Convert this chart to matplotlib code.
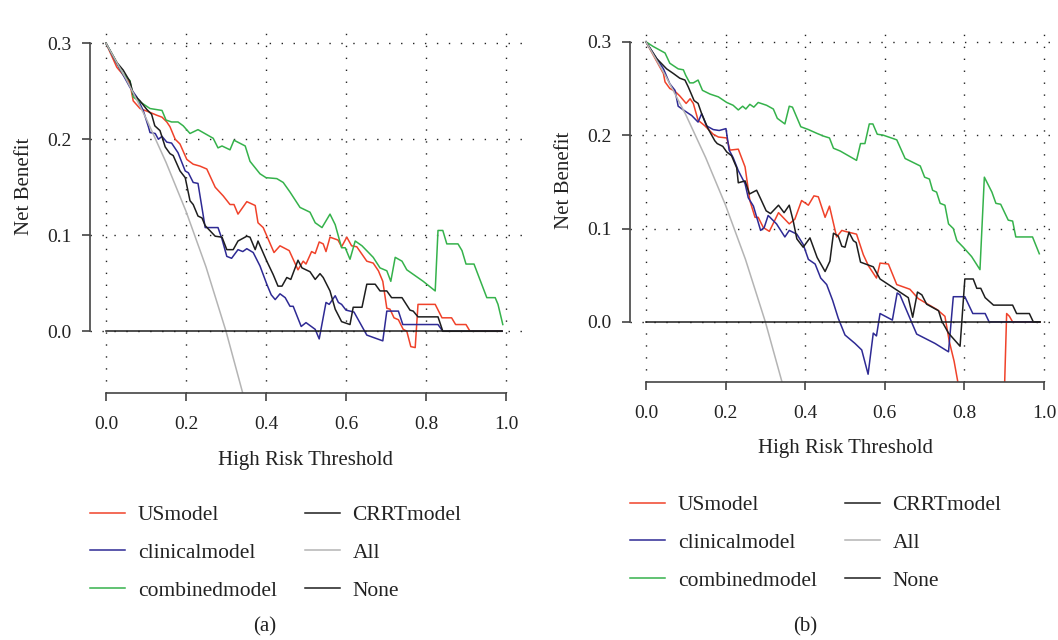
import matplotlib
matplotlib.use("Agg")
import matplotlib.pyplot as plt

plt.rcParams['font.family'] = ['Liberation Serif', 'DejaVu Serif']

# ---- data ----
# shared "treat all" curve (both panels)
all_x = [0.0, 0.05, 0.10, 0.15, 0.20, 0.25, 0.30, 0.35]
all_y = [0.300, 0.263, 0.222, 0.176, 0.125, 0.067, 0.0, -0.077]
none_x = [0.0, 0.99]
none_y = [0.0, 0.0]

# panel (a)
a_us_x = [0, 0.027, 0.043, 0.06, 0.068, 0.085, 0.11, 0.127, 0.14, 0.152, 0.16, 0.173, 0.185,
          0.202, 0.218, 0.235, 0.252, 0.273, 0.293, 0.31, 0.32, 0.33, 0.352, 0.373, 0.38,
          0.393, 0.42, 0.435, 0.458, 0.48, 0.493, 0.50, 0.514, 0.523, 0.533, 0.543, 0.55,
          0.56, 0.58, 0.589, 0.602, 0.614, 0.627, 0.652, 0.668, 0.681, 0.692, 0.702, 0.71,
          0.72, 0.731, 0.743, 0.752, 0.762, 0.773, 0.78, 0.823, 0.84, 0.864, 0.874, 0.90,
          0.91, 0.99]
a_us_y = [0.30, 0.275, 0.267, 0.258, 0.24, 0.232, 0.228, 0.225, 0.223, 0.218, 0.213, 0.20, 0.195,
          0.179, 0.174, 0.172, 0.169, 0.15, 0.141, 0.132, 0.132, 0.122, 0.135, 0.131, 0.113,
          0.108, 0.082, 0.089, 0.084, 0.064, 0.073, 0.070, 0.083, 0.081, 0.093, 0.091, 0.083,
          0.098, 0.095, 0.088, 0.098, 0.089, 0.088, 0.073, 0.071, 0.063, 0.052, 0.024, 0.023,
          0.014, 0.012, 0.002, 0.0, -0.016, -0.017, 0.028, 0.028, 0.014, 0.014, 0.007, 0.007,
          0.0, 0.0]
a_clin_x = [0, 0.027, 0.06, 0.077, 0.093, 0.106, 0.11, 0.123, 0.131, 0.14, 0.152, 0.164, 0.18,
            0.198, 0.206, 0.218, 0.23, 0.248, 0.28, 0.29, 0.302, 0.314, 0.33, 0.342, 0.352,
            0.368, 0.385, 0.402, 0.413, 0.423, 0.435, 0.448, 0.46, 0.468, 0.488, 0.50, 0.523,
            0.533, 0.55, 0.558, 0.573, 0.581, 0.589, 0.60, 0.62, 0.652, 0.692, 0.702, 0.731,
            0.742, 0.83, 0.842, 0.99]
a_clin_y = [0.30, 0.279, 0.254, 0.244, 0.23, 0.213, 0.207, 0.206, 0.20, 0.203, 0.197, 0.196, 0.186,
            0.167, 0.165, 0.155, 0.154, 0.108, 0.108, 0.096, 0.078, 0.076, 0.085, 0.083, 0.086,
            0.082, 0.068, 0.049, 0.038, 0.033, 0.039, 0.035, 0.026, 0.026, 0.005, 0.009, 0.002,
            -0.008, 0.03, 0.028, 0.037, 0.03, 0.028, 0.022, 0.02, -0.004, -0.01, 0.021, 0.021,
            0.007, 0.007, 0.0, 0.0]
a_comb_x = [0, 0.043, 0.06, 0.068, 0.085, 0.11, 0.14, 0.15, 0.164, 0.18, 0.193, 0.21, 0.23,
            0.268, 0.28, 0.29, 0.31, 0.32, 0.348, 0.36, 0.385, 0.40, 0.427, 0.443, 0.46, 0.485,
            0.51, 0.523, 0.54, 0.56, 0.573, 0.589, 0.598, 0.61, 0.623, 0.64, 0.668, 0.685,
            0.702, 0.712, 0.723, 0.74, 0.752, 0.793, 0.823, 0.83, 0.842, 0.852, 0.88, 0.89,
            0.90, 0.92, 0.952, 0.973, 0.98, 0.992]
a_comb_y = [0.30, 0.268, 0.261, 0.244, 0.239, 0.232, 0.23, 0.22, 0.218, 0.218, 0.214, 0.206, 0.21,
            0.201, 0.191, 0.193, 0.189, 0.199, 0.193, 0.177, 0.164, 0.16, 0.159, 0.155, 0.145, 0.129,
            0.124, 0.113, 0.108, 0.122, 0.111, 0.087, 0.087, 0.075, 0.094, 0.089, 0.077, 0.066,
            0.063, 0.052, 0.077, 0.073, 0.064, 0.052, 0.042, 0.105, 0.105, 0.091, 0.091, 0.084,
            0.07, 0.07, 0.035, 0.035, 0.028, 0.007]
a_crrt_x = [0, 0.027, 0.043, 0.06, 0.068, 0.085, 0.102, 0.114, 0.122, 0.135, 0.148, 0.16, 0.168,
            0.185, 0.198, 0.21, 0.218, 0.23, 0.24, 0.248, 0.273, 0.29, 0.302, 0.318, 0.33, 0.352,
            0.36, 0.373, 0.38, 0.402, 0.418, 0.43, 0.44, 0.452, 0.462, 0.48, 0.49, 0.51, 0.523,
            0.535, 0.543, 0.56, 0.573, 0.589, 0.61, 0.618, 0.64, 0.652, 0.673, 0.685, 0.702,
            0.714, 0.74, 0.76, 0.768, 0.78, 0.83, 0.842, 0.99]
a_crrt_y = [0.30, 0.28, 0.272, 0.26, 0.247, 0.24, 0.231, 0.226, 0.214, 0.209, 0.192, 0.185, 0.183,
            0.167, 0.16, 0.136, 0.132, 0.12, 0.118, 0.11, 0.099, 0.098, 0.085, 0.085, 0.094, 0.099,
            0.098, 0.085, 0.094, 0.073, 0.059, 0.047, 0.047, 0.056, 0.054, 0.074, 0.066, 0.062, 0.054,
            0.06, 0.056, 0.042, 0.023, 0.01, 0.007, 0.025, 0.025, 0.049, 0.049, 0.042, 0.042,
            0.035, 0.035, 0.022, 0.021, 0.015, 0.015, 0.0, 0.0]

# panel (b)
b_us_x = [0, 0.044, 0.048, 0.06, 0.073, 0.085, 0.101, 0.111, 0.119, 0.131, 0.148, 0.169, 0.182,
          0.203, 0.211, 0.232, 0.249, 0.261, 0.274, 0.282, 0.295, 0.31, 0.333, 0.36, 0.374,
          0.391, 0.408, 0.422, 0.433, 0.45, 0.461, 0.479, 0.492, 0.50, 0.529, 0.546, 0.559,
          0.579, 0.588, 0.609, 0.63, 0.663, 0.684, 0.732, 0.751, 0.762, 0.774, 0.79, 0.90,
          0.906, 0.913, 0.921, 0.99]
b_us_y = [0.30, 0.266, 0.257, 0.25, 0.247, 0.242, 0.234, 0.239, 0.234, 0.216, 0.21, 0.201, 0.198,
          0.197, 0.184, 0.185, 0.166, 0.13, 0.112, 0.112, 0.101, 0.097, 0.117, 0.105, 0.11,
          0.13, 0.125, 0.135, 0.134, 0.112, 0.124, 0.091, 0.098, 0.097, 0.094, 0.072, 0.06,
          0.047, 0.063, 0.062, 0.04, 0.035, 0.025, 0.013, 0.006, -0.021, -0.042, -0.08, -0.08,
          0.009, 0.006, 0.0, 0.0]
b_clin_x = [0, 0.027, 0.044, 0.06, 0.073, 0.081, 0.094, 0.115, 0.131, 0.14, 0.152, 0.169, 0.184,
            0.201, 0.209, 0.219, 0.232, 0.249, 0.257, 0.27, 0.288, 0.297, 0.307, 0.328, 0.349,
            0.36, 0.379, 0.395, 0.408, 0.425, 0.439, 0.454, 0.469, 0.483, 0.50, 0.525, 0.542,
            0.558, 0.571, 0.579, 0.588, 0.619, 0.631, 0.638, 0.68, 0.726, 0.76, 0.772, 0.801,
            0.821, 0.852, 0.862, 0.988]
b_clin_y = [0.30, 0.282, 0.271, 0.255, 0.248, 0.231, 0.227, 0.221, 0.214, 0.223, 0.21, 0.206, 0.205,
            0.207, 0.184, 0.176, 0.162, 0.148, 0.133, 0.124, 0.098, 0.101, 0.114, 0.105, 0.091,
            0.098, 0.094, 0.083, 0.067, 0.062, 0.047, 0.04, 0.023, 0.004, -0.014, -0.023, -0.03,
            -0.056, -0.012, -0.015, 0.009, 0.002, 0.031, 0.029, -0.013, -0.023, -0.032, 0.027, 0.027,
            0.009, 0.009, 0.0, 0.0]
b_comb_x = [0, 0.018, 0.048, 0.06, 0.081, 0.094, 0.10, 0.11, 0.119, 0.131, 0.142, 0.161, 0.182,
            0.203, 0.219, 0.232, 0.243, 0.251, 0.261, 0.271, 0.282, 0.303, 0.32, 0.33, 0.349,
            0.36, 0.368, 0.379, 0.389, 0.408, 0.429, 0.446, 0.461, 0.471, 0.488, 0.529, 0.539,
            0.55, 0.561, 0.57, 0.581, 0.596, 0.63, 0.651, 0.689, 0.70, 0.712, 0.72, 0.73, 0.739,
            0.751, 0.76, 0.772, 0.781, 0.797, 0.818, 0.839, 0.85, 0.869, 0.879, 0.891, 0.91,
            0.921, 0.929, 0.971, 0.988]
b_comb_y = [0.30, 0.295, 0.288, 0.277, 0.271, 0.27, 0.264, 0.256, 0.256, 0.259, 0.248, 0.244, 0.241,
            0.235, 0.232, 0.227, 0.231, 0.228, 0.233, 0.23, 0.235, 0.232, 0.228, 0.218, 0.212,
            0.231, 0.23, 0.219, 0.209, 0.206, 0.202, 0.199, 0.197, 0.186, 0.183, 0.173, 0.191,
            0.191, 0.212, 0.212, 0.201, 0.20, 0.195, 0.175, 0.167, 0.155, 0.153, 0.141, 0.139, 0.127,
            0.125, 0.105, 0.10, 0.087, 0.08, 0.07, 0.056, 0.155, 0.139, 0.127, 0.126, 0.109,
            0.108, 0.091, 0.091, 0.073]
b_crrt_x = [0, 0.027, 0.052, 0.069, 0.085, 0.098, 0.106, 0.121, 0.131, 0.14, 0.156, 0.173, 0.179,
            0.193, 0.203, 0.215, 0.228, 0.232, 0.249, 0.26, 0.278, 0.288, 0.302, 0.313, 0.333,
            0.347, 0.36, 0.37, 0.379, 0.395, 0.412, 0.43, 0.45, 0.462, 0.471, 0.483, 0.492, 0.50,
            0.51, 0.521, 0.528, 0.539, 0.571, 0.588, 0.659, 0.67, 0.682, 0.693, 0.705, 0.735,
            0.743, 0.76, 0.789, 0.801, 0.822, 0.831, 0.841, 0.852, 0.873, 0.921, 0.931, 0.963,
            0.973, 0.99]
b_crrt_y = [0.30, 0.282, 0.271, 0.266, 0.261, 0.259, 0.252, 0.237, 0.234, 0.223, 0.207, 0.194, 0.191,
            0.188, 0.182, 0.178, 0.165, 0.149, 0.151, 0.137, 0.141, 0.132, 0.119, 0.116, 0.125,
            0.117, 0.125, 0.108, 0.089, 0.08, 0.09, 0.069, 0.054, 0.065, 0.095, 0.092, 0.081, 0.08,
            0.096, 0.087, 0.085, 0.064, 0.059, 0.046, 0.026, 0.005, 0.032, 0.029, 0.019, 0.012,
            0.001, -0.012, -0.026, 0.046, 0.046, 0.036, 0.036, 0.026, 0.018, 0.018, 0.009, 0.009,
            0.0, 0.0]

names = ['USmodel', 'clinicalmodel', 'combinedmodel', 'CRRTmodel', 'All', 'None']
colors = ['#F0422A', '#2E2A94', '#35B24B', '#1E1E1E', '#B4B4B4', '#1E1E1E']
x_ticks = [0.0, 0.2, 0.4, 0.6, 0.8, 1.0]
y_ticks = [0.0, 0.1, 0.2, 0.3]

panels = [
    ('(a)', [a_us_x, a_clin_x, a_comb_x, a_crrt_x], [a_us_y, a_clin_y, a_comb_y, a_crrt_y]),
    ('(b)', [b_us_x, b_clin_x, b_comb_x, b_crrt_x], [b_us_y, b_clin_y, b_comb_y, b_crrt_y]),
]

W, H = 1058, 640
fig = plt.figure(figsize=(W / 100, H / 100), dpi=100)

# axes boxes in pixels: left, top, right, bottom
boxes = [(90, 29.8, 522, 392.7), (630, 28.7, 1060, 381.7)]
legend_pos = [(90, 505), (630, 495)]
ylabel_mid = [186.5, 180]
xlabel_pos = [(306, 461), (845, 448)]
tag_pos = [(265, 627), (805, 627)]

for i, (tag, xs, ys) in enumerate(panels):
    l, t, r, b = boxes[i]
    ax = fig.add_axes([l / W, 1 - b / H, (r - l) / W, (b - t) / H])
    ax.set_xlim(-0.04, 1.04)
    ax.set_ylim(-0.064, 0.314)

    # dotted grid
    for gx in x_ticks:
        ax.axvline(gx, color='#222222', lw=1.0, ls=(0, (1, 7.6)), zorder=0)
    for gy in y_ticks:
        ax.axhline(gy, color='#222222', lw=1.0, ls=(0, (1, 7.6)), zorder=0)

    handles = []
    for x, y, c, n in zip(xs, ys, colors[:4], names[:4]):
        h, = ax.plot(x, y, color=c, lw=1.1, label=n)
        handles.append(h)
    h, = ax.plot(all_x, all_y, color=colors[4], lw=1.1, label=names[4])
    handles.append(h)
    h, = ax.plot(none_x, none_y, color=colors[5], lw=1.1, label=names[5])
    handles.append(h)

    for s in ['top', 'right']:
        ax.spines[s].set_visible(False)
    ax.spines['left'].set_bounds(0, 0.3)
    ax.spines['bottom'].set_bounds(0, 1.0)
    for s in ['left', 'bottom']:
        ax.spines[s].set_color('#444444')
        ax.spines[s].set_linewidth(1.2)
    ax.set_xticks(x_ticks)
    ax.set_yticks(y_ticks)
    ax.set_xticklabels([f'{v:.1f}' for v in x_ticks])
    ax.set_yticklabels([f'{v:.1f}' for v in y_ticks])
    ax.tick_params(axis='both', length=5.5, width=1.2, color='#444444',
                   labelsize=14, labelcolor='#222222')
    ax.tick_params(axis='y', pad=7.5)
    ax.tick_params(axis='x', pad=11)
    ax.set_ylabel('Net Benefit', fontsize=15, color='#222222')
    ax.yaxis.set_label_coords(-56 / (r - l), (b - ylabel_mid[i]) / (b - t))

    fig.text(xlabel_pos[i][0] / W, 1 - xlabel_pos[i][1] / H, 'High Risk Threshold',
             ha='center', va='center', fontsize=15, color='#222222')

    fig.legend(handles=handles, ncol=2, loc='upper left',
               bbox_to_anchor=(legend_pos[i][0] / W, 1 - legend_pos[i][1] / H),
               frameon=False, fontsize=15.5, handlelength=1.62, handletextpad=0.6,
               columnspacing=1.3, labelspacing=0.83, borderpad=0, borderaxespad=0,
               labelcolor='#222222')
    fig.text(tag_pos[i][0] / W, 1 - tag_pos[i][1] / H, tag, ha='center', va='center',
             fontsize=15, color='#222222')

fig.savefig('out.png', dpi=100)
